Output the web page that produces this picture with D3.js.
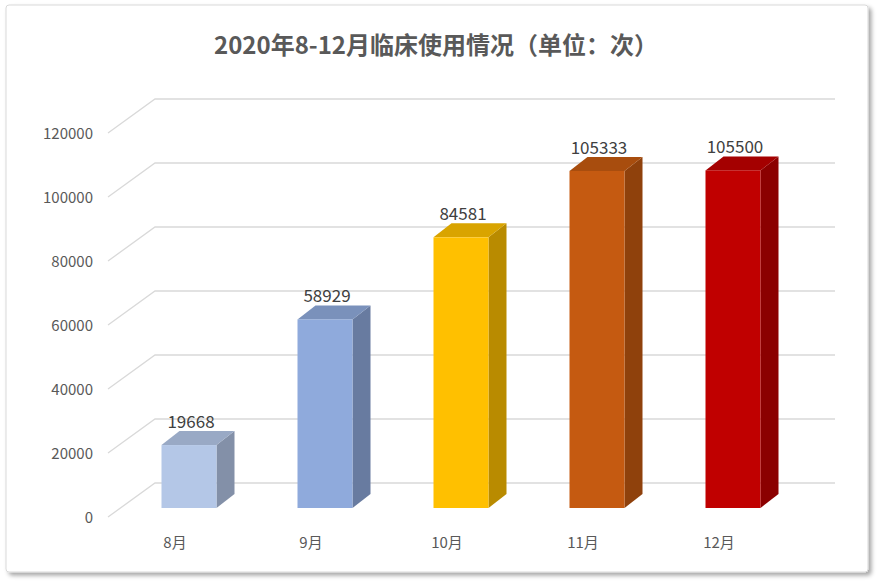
<!DOCTYPE html>
<html><head><meta charset="utf-8">
<script src="https://cdn.jsdelivr.net/npm/d3@7"></script>
<style>body{margin:0;background:#fff}</style></head>
<body><svg id="c" width="887" height="586"></svg>
<script>
const categories=["8月","9月","10月","11月","12月"];
const values=[19668,58929,84581,105333,105500];
const colors=["#B4C7E7","#8FAADC","#FFC000","#C55A11","#C00000"];
const ticks=[0,20000,40000,60000,80000,100000,120000];
const title="2020年8-12月临床使用情况（单位：次）";

const svg=d3.select("#c");
const defs=svg.append("defs");
const f=defs.append("filter").attr("id","sh").attr("x","-5%").attr("y","-5%").attr("width","110%").attr("height","110%");
f.append("feDropShadow").attr("dx",3).attr("dy",3).attr("stdDeviation",2).attr("flood-color","#000").attr("flood-opacity",0.35);
svg.append("rect").attr("x",6).attr("y",5).attr("width",862).attr("height",567).attr("rx",3).attr("fill","#fff").attr("stroke","#d9d9d9").attr("filter","url(#sh)");

const y=d3.scaleLinear().domain([0,120000]).range([508,124]);
const x=d3.scalePoint().domain(categories).range([189,733]);
const bw=55, dx=18, dy=-14;
const font="'Microsoft YaHei','Noto Sans CJK SC',sans-serif";

svg.append("text").attr("x",436).attr("y",54).attr("text-anchor","middle")
  .attr("font-family",font).attr("font-weight","bold").attr("font-size",24).attr("fill","#595959").text(title);

// gridlines
const g=svg.append("g");
ticks.forEach(t=>{
  const yf=y(t)+9, yb=y(t)-25;
  g.append("path").attr("d",`M108,${yf}L155,${yb}L835,${yb}`).attr("fill","none").attr("stroke","#d9d9d9").attr("stroke-width",1.3);
  g.append("text").attr("x",93).attr("y",yf+6).attr("text-anchor","end").attr("font-family",font).attr("font-size",15).attr("fill","#595959").text(t);
});

// bars
categories.forEach((c,i)=>{
  const cx=x(c), x0=cx-bw/2, x1=cx+bw/2, yt=y(values[i]), yb=y(0);
  const col=d3.color(colors[i]);
  svg.append("path").attr("d",`M${x1},${yb}L${x1+dx},${yb+dy}L${x1+dx},${yt+dy}L${x1},${yt}Z`).attr("fill",col.darker(0.9));
  svg.append("path").attr("d",`M${x0},${yt}L${x0+dx},${yt+dy}L${x1+dx},${yt+dy}L${x1},${yt}Z`).attr("fill",col.darker(0.45));
  svg.append("rect").attr("x",x0).attr("y",yt).attr("width",bw).attr("height",yb-yt).attr("fill",colors[i]);
  svg.append("text").attr("x",cx+2).attr("y",yt-17).attr("text-anchor","middle").attr("font-family",font).attr("font-size",17).attr("fill","#404040").text(values[i]);
  svg.append("text").attr("x",cx-14).attr("y",548).attr("text-anchor","middle").attr("font-family",font).attr("font-size",15).attr("fill","#595959").text(c);
});
</script></body></html>
